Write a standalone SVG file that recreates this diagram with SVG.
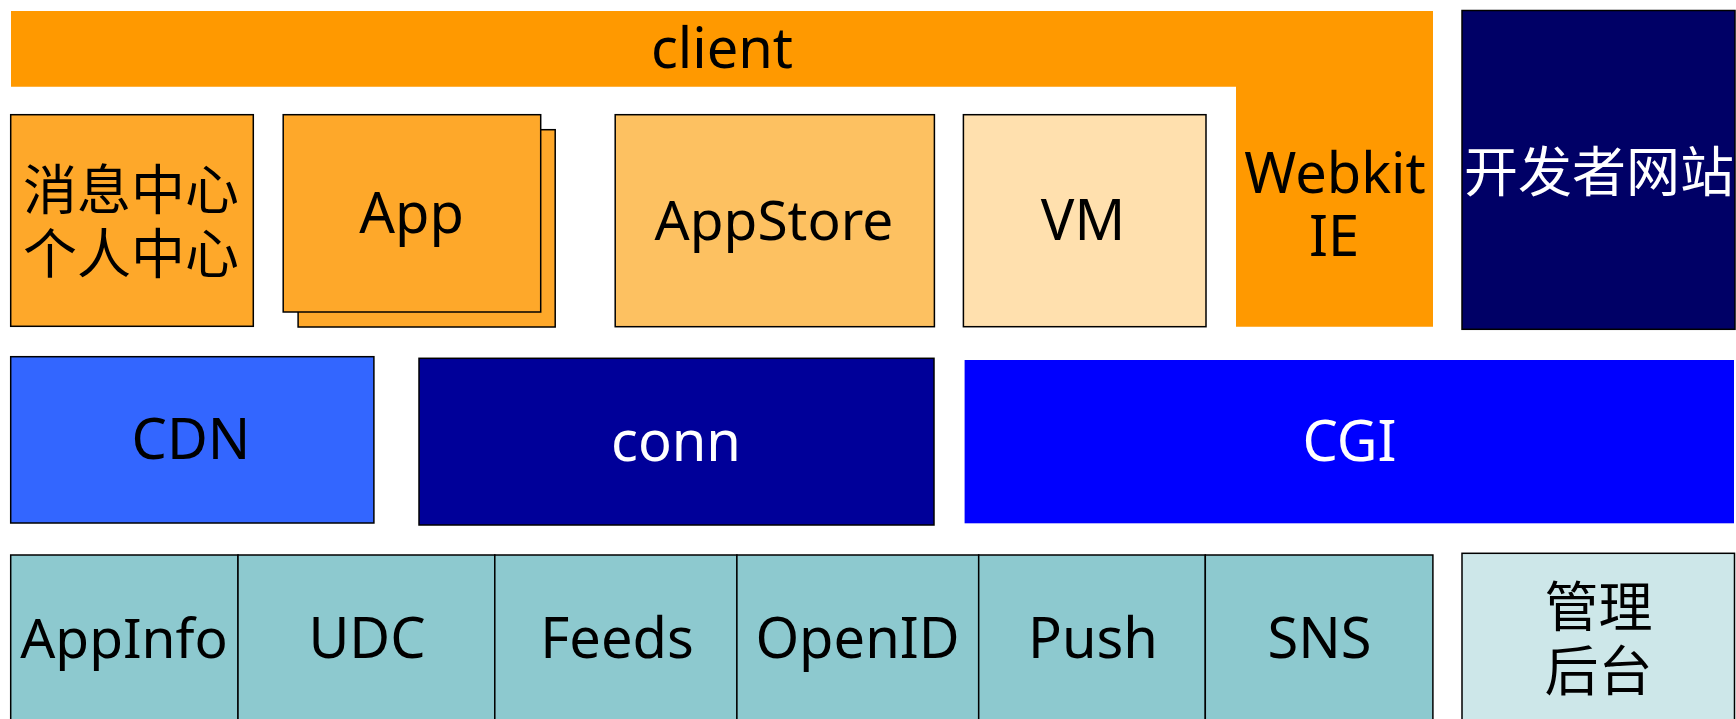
<svg xmlns="http://www.w3.org/2000/svg" width="1736" height="719" viewBox="0 0 1736 719">
<style>
text{font-family:"Noto Sans","Noto Sans CJK SC",sans-serif;font-size:56px;text-anchor:middle;fill:#000}
.cjk{font-size:54px}
.w{fill:#fff}
.b{stroke:#000;stroke-width:1.5}
.org{fill:#FEA82A}
.teal{fill:#8DC9CF}
</style>
<rect width="1736" height="719" fill="#fff"/>
<g id="client">
<path d="M11 11H1433V326.7H1236V86.7H11Z" fill="#FF9900"/>
<text x="722" y="68">client</text>
<text x="1335" y="193">Webkit<tspan x="1334" y="256">IE</tspan></text>
</g>
<g id="msg">
<rect class="b org" x="10.7" y="114.7" width="242.6" height="211.6"/>
<text class="cjk" x="131" y="210">消息中心<tspan x="131" y="274">个人中心</tspan></text>
</g>
<g id="app">
<rect class="b org" x="298.1" y="129.7" width="257.1" height="197.3"/>
<rect class="b org" x="283.2" y="114.7" width="257.5" height="197.3"/>
<text x="411.5" y="232.5">App</text>
</g>
<g id="appstore">
<rect class="b" fill="#FDC161" x="615.2" y="114.7" width="319.2" height="212"/>
<text x="774" y="240" style="font-size:55px">AppStore</text>
</g>
<g id="vm">
<rect class="b" fill="#FFE0AE" x="963.4" y="114.7" width="242.6" height="212"/>
<text x="1083" y="240">VM</text>
</g>
<g id="devsite">
<rect class="b" fill="#000066" x="1462" y="10.5" width="273" height="318.8"/>
<text class="w cjk" x="1599" y="192">开发者网站</text>
</g>
<g id="cdn">
<rect class="b" fill="#3366FF" x="10.7" y="356.7" width="363.2" height="166.3"/>
<text x="191" y="459">CDN</text>
</g>
<g id="conn">
<rect class="b" fill="#000099" x="419" y="358.3" width="515" height="166.7"/>
<text class="w" x="676" y="460.5">conn</text>
</g>
<g id="cgi">
<rect fill="#0000FF" x="964.6" y="360" width="769.4" height="163.3"/>
<text class="w" x="1349.5" y="460.5">CGI</text>
</g>
<g id="appinfo">
<rect class="b teal" x="10.7" y="555" width="227.3" height="170"/>
<text x="124" y="658" style="font-size:55px">AppInfo</text>
</g>
<g id="udc">
<rect class="b teal" x="238" y="555" width="256.8" height="170"/>
<text x="367" y="658">UDC</text>
</g>
<g id="feeds">
<rect class="b teal" x="494.8" y="555" width="242.1" height="170"/>
<text x="617" y="658">Feeds</text>
</g>
<g id="openid">
<rect class="b teal" x="736.9" y="555" width="241.8" height="170"/>
<text x="857.5" y="658">OpenID</text>
</g>
<g id="push">
<rect class="b teal" x="978.7" y="555" width="226.6" height="170"/>
<text x="1093" y="658">Push</text>
</g>
<g id="sns">
<rect class="b teal" x="1205.3" y="555" width="227.6" height="170"/>
<text x="1319.5" y="658">SNS</text>
</g>
<g id="admin">
<rect class="b" fill="#CDE7E9" x="1462" y="553.3" width="272.5" height="172"/>
<text class="cjk" x="1598.5" y="627">管理<tspan x="1598.5" y="691">后台</tspan></text>
</g>
<g id="connectors"/>
</svg>
